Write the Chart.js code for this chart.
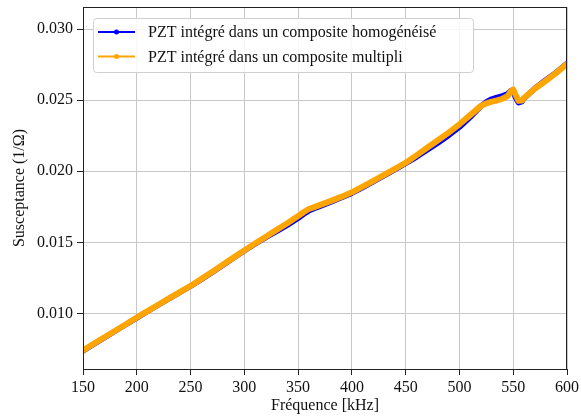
<!DOCTYPE html>
<html>
<head>
<meta charset="utf-8">
<script src="https://cdn.jsdelivr.net/npm/chart.js@4/dist/chart.umd.min.js"></script>
<style>
  html, body { margin: 0; padding: 0; background: #fff; }
  #wrap { width: 581px; height: 419px; }
</style>
</head>
<body>
<div id="wrap"><canvas id="chart" width="581" height="419"></canvas></div>
<script>
// données
const freq = [150, 160, 170, 180, 190, 200, 210, 220, 230, 240, 250, 260, 270, 280, 290, 300, 310, 320, 330, 340,
  350, 355, 360, 365, 370, 380, 390, 400, 410, 420, 430, 440, 450, 460, 470, 480, 490, 500, 510, 520,
  525, 530, 535, 540, 545, 548, 550, 552, 555, 558, 560, 570, 580, 590, 600];

const homogeneise = [0.00738, 0.00785, 0.00831, 0.00877, 0.00923, 0.00970, 0.01015, 0.01060, 0.01104, 0.01148,
  0.01192, 0.01240, 0.01289, 0.01340, 0.01390, 0.01441, 0.01489, 0.01535, 0.01578, 0.01622,
  0.01670, 0.01698, 0.01722, 0.01738, 0.01753, 0.01783, 0.01814, 0.01846, 0.01886, 0.01928,
  0.01970, 0.02012, 0.02055, 0.02100, 0.02150, 0.02200, 0.02252, 0.02310, 0.02380, 0.02458,
  0.02488, 0.02508, 0.02520, 0.02530, 0.02545, 0.02568, 0.02565, 0.02520, 0.02482, 0.02490,
  0.02512, 0.02582, 0.02640, 0.02695, 0.02758];

const multipli = [0.00740, 0.00787, 0.00833, 0.00879, 0.00925, 0.00972, 0.01017, 0.01062, 0.01106, 0.01150,
  0.01194, 0.01243, 0.01292, 0.01343, 0.01393, 0.01444, 0.01493, 0.01540, 0.01588, 0.01635,
  0.01685, 0.01712, 0.01735, 0.01748, 0.01762, 0.01790, 0.01820, 0.01852, 0.01892, 0.01933,
  0.01975, 0.02017, 0.02060, 0.02112, 0.02165, 0.02218, 0.02272, 0.02330, 0.02395, 0.02460,
  0.02478, 0.02490, 0.02498, 0.02510, 0.02530, 0.02565, 0.02575, 0.02540, 0.02495, 0.02498,
  0.02515, 0.02580, 0.02635, 0.02692, 0.02755];

const xTicks = [150, 200, 250, 300, 350, 400, 450, 500, 550, 600];
const yTicks = [0.010, 0.015, 0.020, 0.025, 0.030];

const seriesNames = ['PZT intégré dans un composite homogénéisé', 'PZT intégré dans un composite multipli'];
const seriesColors = ['#0000ff', '#ffa500'];

const serif = '"Liberation Serif", "Times New Roman", serif';

// cadre complet (haut et droite aussi)
const framePlugin = {
  id: 'frame',
  afterDatasetsDraw(chart) {
    const { ctx, chartArea: a } = chart;
    ctx.save();
    ctx.strokeStyle = '#222';
    ctx.lineWidth = 1;
    ctx.strokeRect(a.left + 0.5, a.top + 0.5, a.right - a.left - 1, a.bottom - a.top);
    ctx.restore();
  }
};

// légende façon matplotlib, dans la zone du graphique
const legendPlugin = {
  id: 'mplLegend',
  afterDraw(chart) {
    const { ctx, chartArea: a } = chart;
    const x0 = a.left + 10, y0 = a.top + 11, w = 380, h = 54;
    ctx.save();
    ctx.fillStyle = 'rgba(255,255,255,0.85)';
    ctx.strokeStyle = '#d0d0d0';
    ctx.lineWidth = 1;
    ctx.beginPath();
    ctx.roundRect(x0 + 0.5, y0 + 0.5, w, h, 3);
    ctx.fill();
    ctx.stroke();
    ctx.font = '16px ' + serif;
    ctx.textBaseline = 'middle';
    seriesNames.forEach((name, i) => {
      const cy = y0 + 14 + i * 24.5;
      ctx.strokeStyle = seriesColors[i];
      ctx.lineWidth = 2;
      ctx.beginPath();
      ctx.moveTo(x0 + 5, cy);
      ctx.lineTo(x0 + 42, cy);
      ctx.stroke();
      ctx.fillStyle = seriesColors[i];
      ctx.beginPath();
      ctx.arc(x0 + 23.5, cy, 2.5, 0, Math.PI * 2);
      ctx.fill();
      ctx.fillStyle = '#111';
      ctx.fillText(name, x0 + 55, cy + 1);
    });
    ctx.restore();
  }
};

const ctx = document.getElementById('chart').getContext('2d');
const chart = new Chart(ctx, {
  type: 'line',
  data: {
    datasets: [
      {
        label: seriesNames[0],
        data: freq.map((f, i) => ({ x: f, y: homogeneise[i] })),
        borderColor: seriesColors[0],
        backgroundColor: seriesColors[0],
        borderWidth: 5.5,
        pointRadius: 0,
        tension: 0,
        order: 1,
        borderJoinStyle: 'round',
        borderCapStyle: 'round'
      },
      {
        label: seriesNames[1],
        data: freq.map((f, i) => ({ x: f, y: multipli[i] })),
        borderColor: seriesColors[1],
        backgroundColor: seriesColors[1],
        borderWidth: 6,
        pointRadius: 0,
        tension: 0,
        order: 0,
        borderJoinStyle: 'round',
        borderCapStyle: 'round'
      }
    ]
  },
  options: {
    responsive: false,
    animation: false,
    layout: { padding: { top: 0, right: 14, left: 0, bottom: 0 } },
    plugins: {
      legend: { display: false },
      tooltip: { enabled: false }
    },
    scales: {
      x: {
        type: 'linear',
        min: 150,
        max: 600,
        afterFit: s => { s.height = 50; s.paddingLeft = 0; s.paddingRight = 0; },
        afterBuildTicks: s => { s.ticks = xTicks.map(v => ({ value: v })); },
        grid: { color: '#c8c8c8', lineWidth: 1, tickColor: '#222', tickLength: 6 },
        border: { color: '#222', width: 1 },
        ticks: {
          color: '#111',
          padding: 3,
          maxRotation: 0,
          font: { family: serif, size: 16 },
          callback: v => String(v)
        },
        title: {
          display: true,
          text: 'Fréquence [kHz]',
          color: '#111',
          font: { family: serif, size: 16 },
          padding: { top: 0, bottom: 4 }
        }
      },
      y: {
        type: 'linear',
        min: 0.0061,
        max: 0.03155,
        afterFit: s => { s.width = 83; s.paddingTop = 7; s.paddingBottom = 0; },
        afterBuildTicks: s => { s.ticks = yTicks.map(v => ({ value: v })); },
        grid: { color: '#c8c8c8', lineWidth: 1, tickColor: '#222', tickLength: 6 },
        border: { color: '#222', width: 1 },
        ticks: {
          color: '#111',
          padding: 4,
          font: { family: serif, size: 16 },
          callback: v => v.toFixed(3)
        },
        title: {
          display: true,
          text: 'Susceptance (1/Ω)',
          color: '#111',
          font: { family: serif, size: 16 },
          padding: { top: 10, bottom: 0 }
        }
      }
    }
  },
  plugins: [framePlugin, legendPlugin]
});
</script>
</body>
</html>
